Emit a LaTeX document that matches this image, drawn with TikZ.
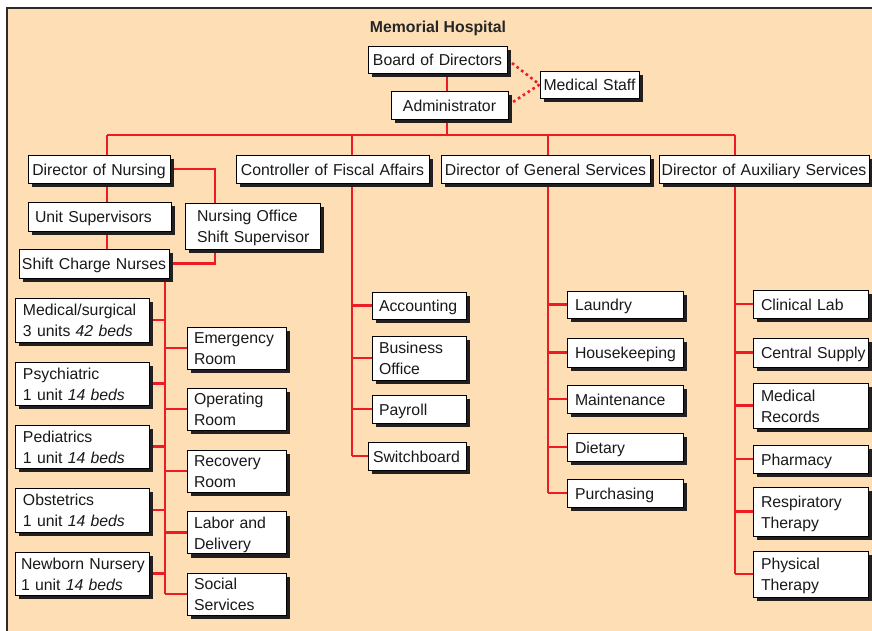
\documentclass[tikz,border=0pt]{standalone}
\usepackage{fontspec}
\setmainfont{Liberation Sans}
\usetikzlibrary{shadows}

\definecolor{peach}{RGB}{253,222,181}
\definecolor{linkred}{RGB}{237,28,36}
\definecolor{shade}{RGB}{35,31,32}
\definecolor{framec}{RGB}{45,42,42}

\pgfdeclarelayer{paper}
\pgfdeclarelayer{wires}
\pgfsetlayers{paper,wires,main}

\tikzset{
  unitbox/.style={draw=black, line width=0.9pt, fill=white, inner ysep=0pt,
    font=\fontsize{15.8}{21}\selectfont, text=black!90,
    drop shadow={shadow xshift=4pt, shadow yshift=-4pt, fill=shade, opacity=1}},
  link/.style={draw=linkred, line width=2.6pt},
  dotlink/.style={draw=linkred, line width=2.6pt, dash pattern=on 2.6pt off 3.2pt},
}

% \bx{name}{align}{padding}{x1}{y1}{x2}{y2}{lines}
\newcommand{\bx}[8]{%
  \pgfmathsetmacro\bxw{#6-#4}%
  \pgfmathsetmacro\bxh{#7-#5}%
  \pgfmathsetmacro\bxt{#6-#4-2*#3}%
  \node[unitbox, align=#2, inner xsep=#3pt, text width=\bxt pt,
        minimum width=\bxw pt, minimum height=\bxh pt]
    (#1) at ({(#4+#6)/2},{(#5+#7)/2})
    {\raisebox{-2.2pt}[\height][\depth]{\begin{tabular}{@{}l@{}}#8\end{tabular}}};}

\begin{document}
\begin{tikzpicture}[x=1pt, y=-1pt]
\useasboundingbox (0,0) rectangle (872,631);

\begin{pgfonlayer}{paper}
  \fill[white] (0,0) rectangle (872,631);
  \fill[peach] (7,8) rectangle (872,631);
  \draw[framec, line width=1.5pt] (7,631) -- (7,8) -- (872,8);
\end{pgfonlayer}

\node[font=\fontsize{15.8}{19}\selectfont\bfseries, text=black!85] (title) at (438,28.5) {Memorial Hospital};

% governing body
\bx{bod}{center}{2}{368}{46}{507}{73}{Board of Directors}
\bx{adm}{center}{2}{391}{91}{508}{119}{Administrator}
\bx{mst}{center}{2}{540}{71}{639}{98}{Medical Staff}

% department heads
\bx{dnur}{center}{2}{28}{155}{170}{183}{Director of Nursing}
\bx{ctrl}{center}{2}{236}{155}{429}{183}{Controller of Fiscal Affairs}
\bx{dgen}{center}{2}{441}{155}{650}{183}{Director of General Services}
\bx{daux}{center}{2}{659}{155}{869}{183}{Director of Auxiliary Services}

% nursing
\bx{us}{left}{7}{28}{202}{171}{231}{Unit Supervisors}
\bx{nof}{left}{12}{185}{203}{320}{249}{Nursing Office\\Shift Supervisor}
\bx{scn}{center}{2}{19}{249}{169}{278}{Shift Charge Nurses}

\bx{msu}{left}{8}{15}{298}{149}{342}{Medical/surgical\\3 units \textit{42 beds}}
\bx{psy}{left}{8}{15}{362}{149}{405}{Psychiatric\\1 unit \textit{14 beds}}
\bx{ped}{left}{8}{15}{425}{149}{468}{Pediatrics\\1 unit \textit{14 beds}}
\bx{obs}{left}{8}{15}{488}{149}{532}{Obstetrics\\1 unit \textit{14 beds}}
\bx{nbn}{left}{6}{15}{552}{149}{595}{Newborn Nursery\\1 unit \textit{14 beds}}

\bx{er}{left}{7}{187}{327}{286}{369}{Emergency\\Room}
\bx{orm}{left}{7}{187}{388}{286}{430}{Operating\\Room}
\bx{rr}{left}{7}{187}{450}{286}{492}{Recovery\\Room}
\bx{ld}{left}{7}{187}{512}{286}{553}{Labor and\\Delivery}
\bx{ss}{left}{7}{187}{573}{286}{615}{Social\\Services}

% fiscal affairs
\bx{acc}{left}{7}{372}{292}{466}{319}{Accounting}
\bx{bo}{left}{7}{372}{336}{466}{380}{Business\\Office}
\bx{pay}{left}{7}{372}{395}{466}{423}{Payroll}
\bx{swb}{left}{5}{368}{442}{466}{470}{Switchboard}

% general services
\bx{lau}{left}{8}{567}{291}{683}{318}{Laundry}
\bx{hk}{left}{8}{567}{338}{683}{367}{Housekeeping}
\bx{mnt}{left}{8}{567}{385}{683}{413}{Maintenance}
\bx{die}{left}{8}{567}{433}{683}{461}{Dietary}
\bx{pur}{left}{8}{567}{479}{683}{507}{Purchasing}

% auxiliary services
\bx{cl}{left}{8}{753}{290}{868}{318}{Clinical Lab}
\bx{cs}{left}{8}{753}{338}{868}{367}{Central Supply}
\bx{mr}{left}{8}{753}{383}{868}{428}{Medical\\Records}
\bx{ph}{left}{8}{753}{445}{868}{473}{Pharmacy}
\bx{rt}{left}{8}{753}{487}{868}{536}{Respiratory\\Therapy}
\bx{pt}{left}{8}{753}{551}{868}{597}{Physical\\Therapy}

% spine positions
\coordinate (tx) at (447,0);
\coordinate (bus) at (0,135);
\coordinate (nx) at (107,0);
\coordinate (ox) at (215,0);
\coordinate (sx) at (165,0);
\coordinate (fx) at (352,0);
\coordinate (gx) at (548,0);
\coordinate (ax) at (735,0);

\begin{pgfonlayer}{wires}
  \draw[link] (bod.south -| tx) -- (adm.north -| tx);
  \draw[link] (adm.south -| tx) -- (tx |- bus);
  \draw[link] (nx |- bus) -- (ax |- bus);
  \draw[dotlink] (bod.east) -- (mst.west);
  \draw[dotlink] (mst.west) -- (adm.east);

  % nursing chain
  \draw[link] (nx |- bus) -- (dnur.north -| nx);
  \draw[link] (dnur.south -| nx) -- (us.north -| nx);
  \draw[link] (us.south -| nx) -- (scn.north -| nx);
  \draw[link] (dnur.east) -| (nof.north -| ox);
  \draw[link] (nof.south -| ox) |- (scn.east);
  \draw[link] (scn.south -| sx) -- (sx |- ss.west);
  \foreach \n in {msu,psy,ped,obs,nbn} \draw[link] (sx |- \n.east) -- (\n.east);
  \foreach \n in {er,orm,rr,ld,ss} \draw[link] (sx |- \n.west) -- (\n.west);

  % fiscal affairs
  \draw[link] (fx |- bus) -- (ctrl.north -| fx);
  \draw[link] (ctrl.south -| fx) -- (fx |- swb.west);
  \foreach \n in {acc,bo,pay,swb} \draw[link] (fx |- \n.west) -- (\n.west);

  % general services
  \draw[link] (gx |- bus) -- (dgen.north -| gx);
  \draw[link] (dgen.south -| gx) -- (gx |- pur.west);
  \foreach \n in {lau,hk,mnt,die,pur} \draw[link] (gx |- \n.west) -- (\n.west);

  % auxiliary services
  \draw[link] (ax |- bus) -- (daux.north -| ax);
  \draw[link] (daux.south -| ax) -- (ax |- pt.west);
  \foreach \n in {cl,cs,mr,ph,rt,pt} \draw[link] (ax |- \n.west) -- (\n.west);
\end{pgfonlayer}
\end{tikzpicture}
\end{document}
